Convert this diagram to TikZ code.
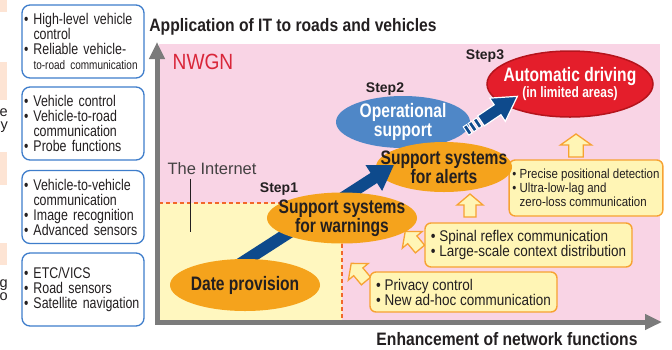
\documentclass[tikz,border=0pt]{standalone}
\usepackage{fontspec}
\setmainfont{Liberation Sans}
\newfontfamily\sidefont[FakeStretch=0.8]{Liberation Sans}
\newfontfamily\condfont[FakeStretch=0.87]{Liberation Sans}
\newfontfamily\headfont[FakeStretch=0.8]{Liberation Sans}
\newfontfamily\titlefont[FakeStretch=0.87]{Liberation Sans}
\usetikzlibrary{shapes.geometric,arrows.meta,positioning}

\definecolor{nwgnpink}{HTML}{F9D4E5}
\definecolor{inetyellow}{HTML}{FFF7BF}
\definecolor{stepor}{HTML}{F5A31C}
\definecolor{boxorange}{HTML}{F7A232}
\definecolor{boxyellow}{HTML}{FFF5B5}
\definecolor{opblue}{HTML}{4F87C7}
\definecolor{arrowblue}{HTML}{0E4A8C}
\definecolor{autored}{HTML}{E41E2B}
\definecolor{autoedge}{HTML}{B5141C}
\definecolor{axisgray}{HTML}{7B7B7B}
\definecolor{sideblue}{HTML}{3E7DCB}
\definecolor{dashor}{HTML}{F2672A}
\definecolor{salmon}{HTML}{FDE4D4}
\definecolor{nwgnred}{HTML}{D9263A}
\definecolor{txtdark}{HTML}{231F20}

\tikzset{hollow up/.pic={\draw[hollowarr] (0,-6) -- (12,-6) -- (12,-13) -- (23,0) -- (12,13) -- (12,6) -- (0,6) -- cycle;}}

\begin{document}
\begin{tikzpicture}[x=1pt,y=-1pt,
  sidebox/.style={draw=sideblue, line width=1.3pt, rounded corners=8pt, fill=white, text width=118pt, align=left, inner xsep=2pt, minimum height=73pt, text=txtdark, font=\sidefont\fontsize{15.5}{15}\selectfont},
  notebox/.style={draw=boxorange, line width=1.4pt, rounded corners=6pt, fill=boxyellow, align=left, text=txtdark, font=\condfont\fontsize{15.5}{15}\selectfont},
  stepoval/.style={ellipse, fill=stepor, inner sep=0pt},
  ovaltext/.style={align=center, text=txtdark, font=\headfont\bfseries\fontsize{19.5}{19}\selectfont},
  steplbl/.style={text=txtdark, font=\bfseries\fontsize{14}{14}\selectfont},
  axislbl/.style={text=txtdark, font=\titlefont\bfseries\fontsize{18}{18}\selectfont},
  axis/.style={axisgray, line width=5pt, -{Triangle[length=17pt,width=15pt]}},
  hollowarr/.style={draw=boxorange, fill=boxyellow, line width=1.3pt},
  bigarrow/.style={arrowblue, line width=12pt, -{Triangle[length=24pt,width=29pt]}},
  dashline/.style={dashor, line width=1.6pt, dash pattern=on 4pt off 3pt},
  cutoff/.style={anchor=east, inner sep=0pt, align=right, text=txtdark, font=\fontsize{14.5}{13}\selectfont}]
\useasboundingbox (0,0) rectangle (672,349);
%%clipped bits of the neighbouring column
\fill[salmon] (0,0) rectangle (7,12);
\fill[salmon] (0,62) rectangle (7,100);
\fill[salmon] (0,152) rectangle (7,185);
\fill[salmon] (0,243) rectangle (7,265);
\node[cutoff] (cut1) at (8,121) {e\\y};
\node[cutoff] (cut2) at (8,290) {g\\o};
%%technology boxes on the left
\node[sidebox] (ctl) at (83,41.5) {\textbullet\ High-level vehicle\\\phantom{\textbullet\ }control\\\textbullet\ Reliable vehicle-\\\phantom{\textbullet\ }{\fontsize{12.5}{15}\selectfont to-road communication}};
\node[sidebox] (probe) at (83,123.5) {\textbullet\ Vehicle control\\\textbullet\ Vehicle-to-road\\\phantom{\textbullet\ }communication\\\textbullet\ Probe functions};
\node[sidebox] (v2v) at (83,207) {\textbullet\ Vehicle-to-vehicle\\\phantom{\textbullet\ }communication\\\textbullet\ Image recognition\\\textbullet\ Advanced sensors};
\node[sidebox] (etc) at (83,289.5) {\textbullet\ ETC/VICS\\\textbullet\ Road sensors\\\textbullet\ Satellite navigation};
%%NWGN area and Internet area
\fill[nwgnpink] (159,44) rectangle (660,321);
\fill[inetyellow] (159,203) rectangle (342,321);
\draw[dashline] (159,203) -- (342,203) -- (342,321);
\node[text=nwgnred, font=\condfont\fontsize{22}{22}\selectfont] (nwgn) at (203,62) {NWGN};
\node[text=txtdark!85, font=\fontsize{16.5}{17}\selectfont] (inet) at (212,169) {The Internet};
\coordinate (inetend) at (190,232);
\draw[txtdark, line width=.8pt] (inet.south -| inetend) -- (inetend);
%%axes
\coordinate (origin) at (157,322);
\coordinate (ytop) at (157,42);
\coordinate (xend) at (662,322);
\draw[axis] (157,324) -- (ytop);
\draw[axis] (155,322) -- (xend);
\node[axislbl] (ytitle) at (293,27) {Application of IT to roads and vehicles};
\node[axislbl] (xtitle) at (507,339) {Enhancement of network functions};
%%hollow arrows for the new functions
\pic[rotate=90, yscale=1.2] at (576,157) {hollow up};
\pic[rotate=90] at (470,217) {hollow up};
\pic[rotate=130] at (420,249) {hollow up};
\pic[rotate=130] at (366,281) {hollow up};
%%function boxes
\node[notebox, minimum width=152pt, minimum height=56pt, font=\condfont\fontsize{13.2}{14}\selectfont] (precise) at (586,188) {\textbullet\ Precise positional detection\\\textbullet\ Ultra-low-lag and\\\phantom{\textbullet\ }zero-loss communication};
\node[notebox, minimum width=207pt, minimum height=44pt] (spinal) at (528.5,245) {\textbullet\ Spinal reflex communication\\\textbullet\ Large-scale context distribution};
\node[notebox, minimum width=187pt, minimum height=40pt] (privacy) at (463.5,292) {\textbullet\ Privacy control\\\textbullet\ New ad-hoc communication};
%%steps
\node[ellipse, fill=opblue, inner sep=0pt, minimum width=134pt, minimum height=52pt, label={[ovaltext, text=white]center:Operational\\support}] (opsup) at (403,122) {};
\node[stepoval, minimum width=136pt, minimum height=50pt, label={[ovaltext]center:Support systems\\for alerts}] (alert) at (444,167) {};
\coordinate (a1tail) at (237,266);
\coordinate (a1tip) at (394,165);
\draw[bigarrow] (a1tail) -- (a1tip);
\node[stepoval, minimum width=150pt, minimum height=51pt, label={[ovaltext]center:Support systems\\for warnings}] (warn) at (342,218) {};
\node[stepoval, minimum width=150pt, minimum height=52pt, label={[ovaltext]center:Date provision}] (date) at (245,285) {};
\node[ellipse, fill=autored, draw=autoedge, line width=1.5pt, inner sep=0pt, minimum width=166pt, minimum height=66pt, label={[align=center, text=white, font=\headfont\bfseries\fontsize{19.5}{16}\selectfont]center:Automatic driving\\{\fontsize{15}{15}\selectfont(in limited areas)}}] (auto) at (570,84) {};
%striped arrow from step2 to step3
\begin{scope}[shift={(466,131)}, rotate=34]
\foreach \s in {0,6,12}
  \draw[fill=arrowblue, draw=white, line width=1pt] (\s,-5) rectangle (\s+4,5);
\draw[fill=arrowblue, draw=white, line width=1.2pt] (18,-6) -- (38,-6) -- (38,-14) -- (62,0) -- (38,14) -- (38,6) -- (18,6) -- cycle;
\end{scope}
\node[steplbl] (s1) at (279,189) {Step1};
\node[steplbl] (s2) at (385,89) {Step2};
\node[steplbl] (s3) at (485,56) {Step3};
\end{tikzpicture}
\end{document}
